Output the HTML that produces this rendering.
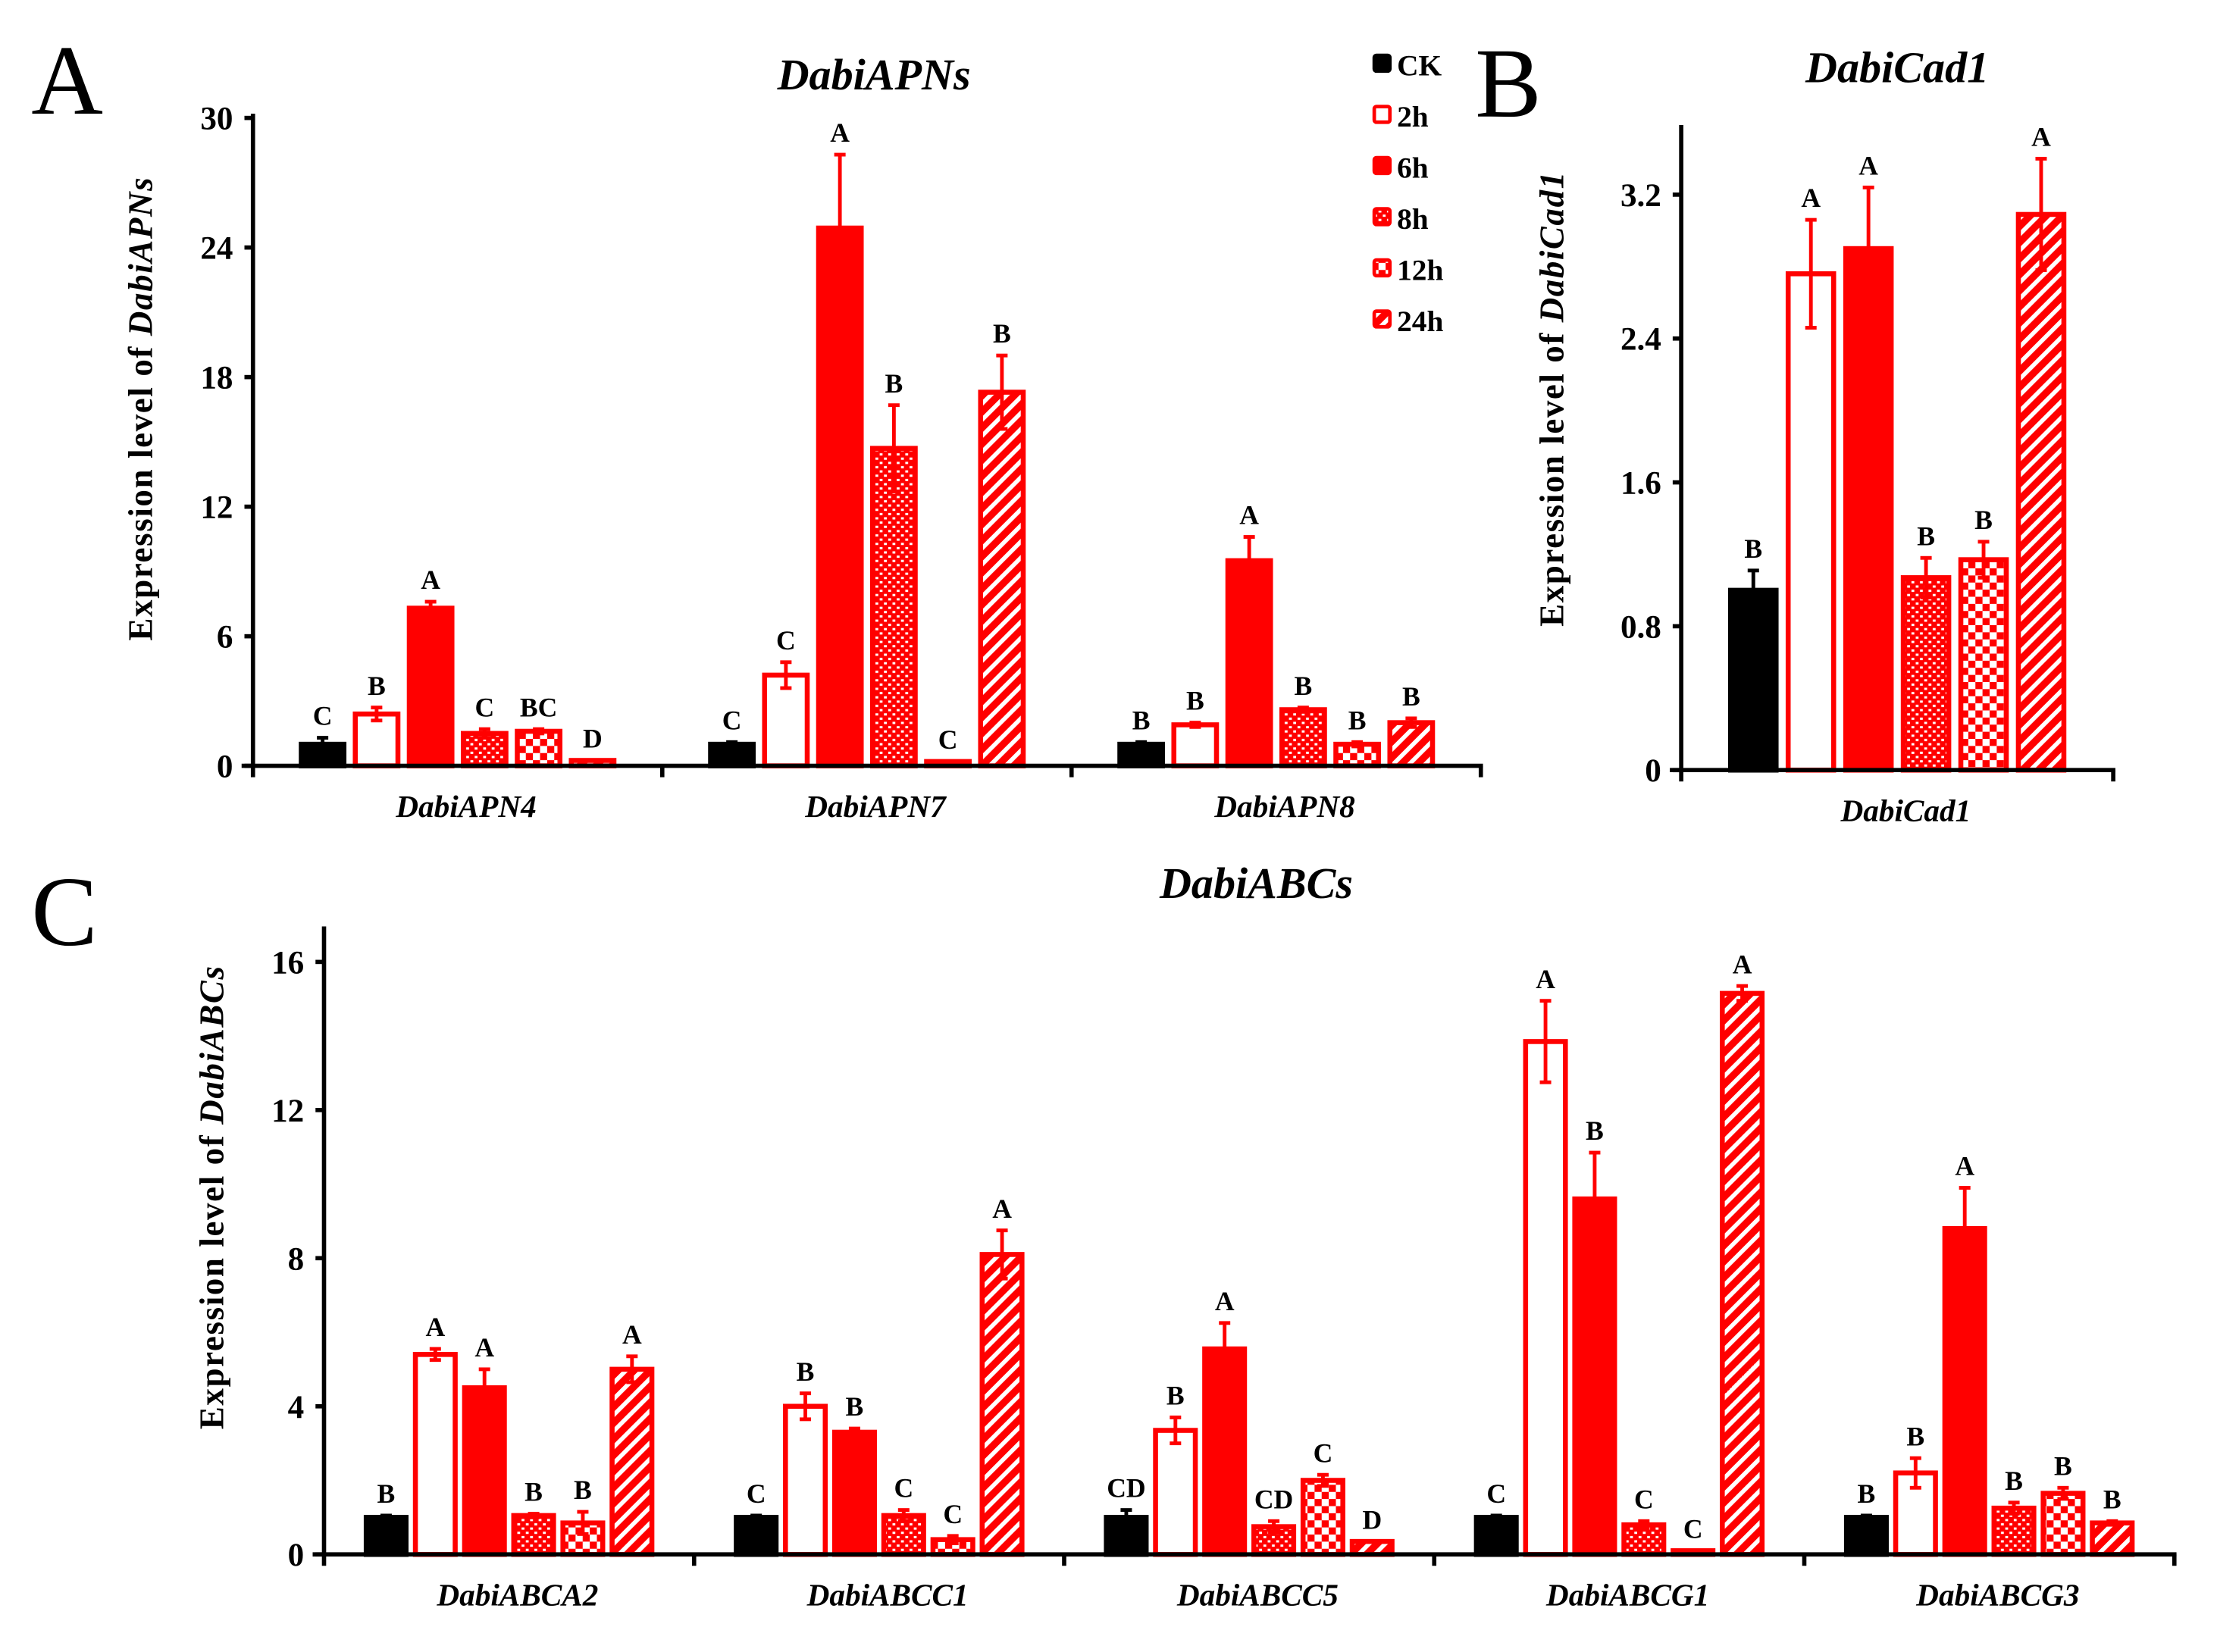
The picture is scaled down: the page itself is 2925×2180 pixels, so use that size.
<!DOCTYPE html>
<html><head><meta charset="utf-8">
<style>
html,body{margin:0;padding:0;background:#fff;}
svg{display:block;}
text{font-family:"Liberation Serif",serif;}
</style></head>
<body>
<svg id="fig" width="2925" height="2180" viewBox="0 0 1560 1162.67" xmlns="http://www.w3.org/2000/svg">
<defs>
<pattern id="p-dots" patternUnits="userSpaceOnUse" width="6" height="6">
<rect width="6" height="6" fill="#ff0000"/><rect x="1" y="1" width="2" height="1.6" fill="#fff"/><rect x="4" y="4" width="2" height="1.6" fill="#fff"/>
</pattern>
<pattern id="p-check" patternUnits="userSpaceOnUse" width="10" height="10">
<rect width="10" height="10" fill="#fff"/><rect width="5" height="5" fill="#ff0000"/><rect x="5" y="5" width="5" height="5" fill="#ff0000"/>
</pattern>
<pattern id="p-diag" patternUnits="userSpaceOnUse" width="8" height="8" patternTransform="rotate(45)">
<rect width="8" height="8" fill="#ff0000"/><rect x="0" width="3" height="8" fill="#fff"/>
</pattern>
</defs>
<g id="root"></g>
</svg>
<script>
const seriesNames = ["CK","2h","6h","8h","12h","24h"];
// Panel A
const catsA = ["DabiAPN4","DabiAPN7","DabiAPN8"];
const valsA = [[1.0,2.4,7.3,1.5,1.6,0.25],[1.0,4.2,24.9,14.7,0.2,17.3],[1.0,1.9,9.5,2.6,1.0,2.0]];
const errsA = [[0.3,0.3,0.3,0.2,0.1,0],[0.1,0.6,3.4,2.0,0,1.7],[0.1,0.1,1.1,0.1,0.1,0.2]];
const letsA = [["C","B","A","C","BC","D"],["C","C","A","B","C","B"],["B","B","A","B","B","B"]];
const ticksA = [0,6,12,18,24,30];
// Panel B
const catsB = ["DabiCad1"];
const valsB = [[1.0,2.76,2.9,1.07,1.17,3.09]];
const errsB = [[0.11,0.3,0.34,0.11,0.1,0.31]];
const letsB = [["B","A","A","B","B","A"]];
const ticksB = [0,0.8,1.6,2.4,3.2];
// Panel C
const catsC = ["DabiABCA2","DabiABCC1","DabiABCC5","DabiABCG1","DabiABCG3"];
const valsC = [[1.0,5.4,4.5,1.05,0.85,5.0],[1.0,4.0,3.3,1.05,0.4,8.1],[1.0,3.35,5.55,0.75,2.0,0.35],[1.0,13.85,9.6,0.8,0.1,15.15],[1.0,2.2,8.8,1.25,1.65,0.85]];
const errsC = [[0.05,0.15,0.5,0.05,0.3,0.35],[0.05,0.35,0.1,0.15,0.1,0.65],[0.2,0.35,0.7,0.15,0.15,0],[0.05,1.1,1.25,0.1,0,0.2],[0.05,0.4,1.1,0.15,0.15,0.05]];
const letsC = [["B","A","A","B","B","A"],["C","B","B","C","C","A"],["CD","B","A","CD","C","D"],["C","A","B","C","C","A"],["B","B","A","B","B","B"]];
const ticksC = [0,4,8,12,16];

const NS="http://www.w3.org/2000/svg";
const root=document.getElementById('root');
function mk(tag,attrs,parent){const e=document.createElementNS(NS,tag);for(const k in attrs)e.setAttribute(k,attrs[k]);(parent||root).appendChild(e);return e;}
const fills=["#000","#fff","#ff0000","url(#p-dots)","url(#p-check)","url(#p-diag)"];

function panel(o){
  const g=mk('g',{});
  
  
  const y=v=>o.y0-(v/o.ymax)*(o.y0-o.ytop);
  const gw=(o.x1-o.x0)/o.cats.length;
  o.cats.forEach((c,gi)=>{
    const gc=o.x0+gw*(gi+0.5);
    o.vals[gi].forEach((v,si)=>{
      const cx=gc+(si-2.5)*o.pitch;
      const top=y(v), h=o.y0-top;
      const isCK=si===0;
      const col=isCK?"#000":"#ff0000";
      const r=mk('rect',{x:cx-o.bw/2,y:top,width:o.bw,height:Math.max(h,0.5),fill:fills[si],stroke:col,'stroke-width':o.sw},g);
      
      
      const e=o.errs[gi][si];
      if(e>0){
        const eg=mk('g',{stroke:col,'stroke-width':2.6},g);
        
        
        mk('line',{x1:cx,x2:cx,y1:y(v+e),y2:y(Math.max(v-e,0))},eg);
        mk('line',{x1:cx-4,x2:cx+4,y1:y(v+e),y2:y(v+e)},eg);
        mk('line',{x1:cx-4,x2:cx+4,y1:y(Math.max(v-e,0)),y2:y(Math.max(v-e,0))},eg);
      }
      const t=mk('text',{x:cx,y:y(v+e)-9,'text-anchor':'middle','font-weight':'bold','font-size':o.lfs},g);
      t.textContent=o.lets[gi][si];
      
      
    });
    const lt=mk('text',{x:gc+6,y:o.y0+36,'text-anchor':'middle','font-weight':'bold','font-style':'italic','font-size':22},g);
    lt.textContent=c;
    
    
  });
  const ax=mk('g',{stroke:'#000','stroke-width':3,fill:'none'},g);
  
  
  mk('line',{x1:o.x0,x2:o.x0,y1:o.yaxTop,y2:o.y0+1.5},ax);
  mk('line',{x1:o.x0-8,x2:o.x1+1.5,y1:o.y0,y2:o.y0},ax);
  for(let i=0;i<=o.cats.length;i++){const xx=o.x0+gw*i;mk('line',{x1:xx,x2:xx,y1:o.y0,y2:o.y0+8},ax);}
  o.ticks.forEach(tv=>{
    mk('line',{x1:o.x0-6,x2:o.x0,y1:y(tv),y2:y(tv)},ax);
    const tt=mk('text',{x:o.x0-14,y:y(tv)+8,'text-anchor':'end','font-weight':'bold','font-size':23},g);
    tt.textContent=String(tv);
    
    
  });
  const yt=mk('text',{transform:`translate(${o.ytx},${o.ytcy}) rotate(-90)`,'text-anchor':'middle','font-weight':'bold','font-size':24,'textLength':o.ytl,'lengthAdjust':'spacing'},g);
  
  
  yt.appendChild(document.createTextNode('Expression level of '));
  const ts=mk('tspan',{'font-style':'italic'},yt);ts.textContent=o.yital;
  const ti=mk('text',{x:o.tx,y:o.ty,'text-anchor':'middle','font-weight':'bold','font-style':'italic','font-size':31},g);
  ti.textContent=o.title;
  
  
  const pl=mk('text',{x:o.plx,y:o.ply,'font-size':70},g);
  pl.textContent=o.letter;
  
  
}

panel({name:'panel-a',cats:catsA,vals:valsA,errs:errsA,lets:letsA,ticks:ticksA,ymax:30,x0:178,x1:1042,y0:539,ytop:83,yaxTop:80,pitch:38,bw:30,sw:3.5,lfs:19,ytx:107,ytcy:288,ytl:326,yital:'DabiAPNs',title:'DabiAPNs',tx:615,ty:63,letter:'A',plx:22,ply:80});
panel({name:'panel-b',cats:catsB,vals:valsB,errs:errsB,lets:letsB,ticks:ticksB,ymax:3.2,x0:1183,x1:1487,y0:542,ytop:137,yaxTop:88,pitch:40.5,bw:32,sw:3.5,lfs:19,ytx:1100,ytcy:281,ytl:320,yital:'DabiCad1',title:'DabiCad1',tx:1335,ty:58,letter:'B',plx:1038,ply:82});
panel({name:'panel-c',cats:catsC,vals:valsC,errs:errsC,lets:letsC,ticks:ticksC,ymax:16,x0:228,x1:1530,y0:1094,ytop:677,yaxTop:652,pitch:34.6,bw:28,sw:3.5,lfs:19,ytx:157,ytcy:843,ytl:326,yital:'DabiABCs',title:'DabiABCs',tx:884,ty:632,letter:'C',plx:22,ply:665});

const lg=mk('g',{});


seriesNames.forEach((s,i)=>{
  const yy=45+i*36;
  const e=mk('g',{},lg);
  
  
  mk('rect',{x:967,y:yy-6,width:11,height:11,rx:1.5,fill:fills[i],stroke:i===0?'#000':'#ff0000','stroke-width':2.5},e);
  const t=mk('text',{x:983,y:yy+8,'font-weight':'bold','font-size':21},e);
  t.textContent=s;
});
</script>
</body></html>
